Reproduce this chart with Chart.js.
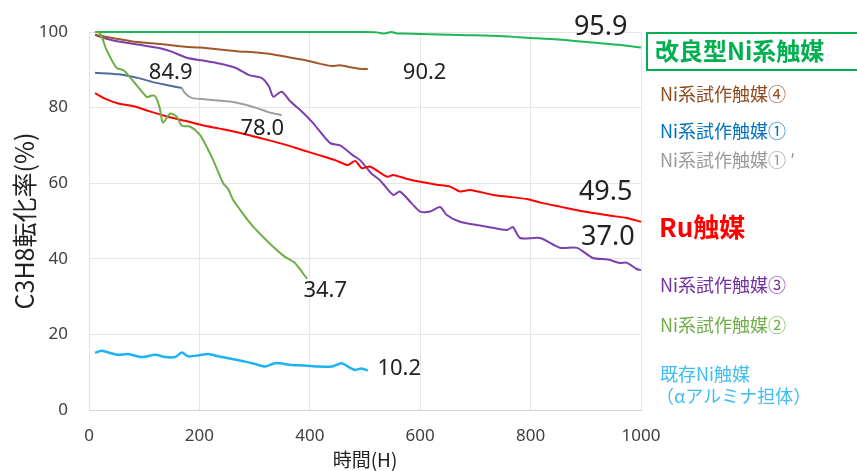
<!DOCTYPE html>
<html lang="ja">
<head>
<meta charset="UTF-8">
<title>C3H8転化率</title>
<script src="https://cdn.jsdelivr.net/npm/chart.js"></script>
<style>
  html, body { margin: 0; padding: 0; background: #fff; }
  canvas { display: block; }
</style>
</head>
<body>
<canvas id="chart" width="857" height="471"></canvas>
<script>
// axis ticks
const xTicks = [0, 200, 400, 600, 800, 1000];
const yTicks = [0, 20, 40, 60, 80, 100];

// 改良型Ni系触媒
const improvedH   = [11, 100, 200, 300, 400, 500, 522, 535, 548, 558, 570, 600, 672, 750, 793, 850, 913, 960, 1000];
const improvedVal = [100, 100, 100, 100, 100, 100, 99.9, 99.6, 100, 99.6, 99.6, 99.5, 99.2, 98.9, 98.5, 98.0, 97.2, 96.6, 95.9];

// Ni系試作触媒④
const ni4H   = [11, 40, 83, 130, 174, 201, 264, 322, 355, 390, 415, 431, 440, 455, 476, 490, 505];
const ni4Val = [99.2, 98.5, 97.4, 96.8, 96.1, 95.9, 95.0, 94.3, 93.5, 92.6, 91.7, 91.2, 91.0, 91.2, 90.6, 90.3, 90.2];

// Ni系試作触媒①
const ni1H   = [11, 53, 90, 114, 140, 168];
const ni1Val = [89.2, 88.8, 87.8, 86.8, 86.0, 85.2];

// Ni系試作触媒① ′
const ni1pH   = [168, 174, 187, 210, 234, 264, 306, 325, 349];
const ni1pVal = [85.2, 83.8, 82.5, 82.2, 81.9, 81.4, 79.8, 78.8, 78.0];

// Ru触媒
const ruH   = [11, 30, 53, 83, 110, 143, 174, 204, 234, 264, 295, 325, 355, 386, 415, 446, 469, 482, 494, 509, 540, 551, 575, 600, 630, 654, 672, 690, 732, 760, 793, 820, 853, 880, 913, 945, 974, 1000];
const ruVal = [83.8, 82.3, 81.1, 80.3, 79.0, 77.6, 76.5, 75.4, 74.5, 73.6, 72.5, 71.4, 70.2, 68.8, 67.5, 66.1, 64.8, 65.9, 64.0, 64.4, 61.7, 62.2, 61.2, 60.4, 59.6, 59.1, 57.8, 58.2, 56.9, 56.4, 55.8, 54.8, 53.8, 53.0, 52.1, 51.4, 50.8, 49.8];

// Ni系試作触媒③
const ni3H   = [11, 30, 56, 92, 129, 150, 177, 204, 231, 264, 290, 313, 326, 334, 349, 365, 386, 406, 437, 455, 477, 491, 512, 527, 551, 563, 585, 600, 618, 636, 648, 672, 700, 721, 757, 768, 781, 817, 853, 884, 913, 940, 962, 974, 992, 1000];
const ni3Val = [99.2, 98.3, 97.4, 96.6, 95.7, 94.8, 93.2, 92.5, 91.8, 90.6, 88.6, 87.8, 85.6, 82.9, 84.2, 81.6, 78.9, 75.9, 70.6, 70.0, 67.5, 66.1, 62.5, 60.8, 56.9, 57.8, 54.6, 52.5, 52.5, 53.7, 51.6, 49.8, 49.0, 48.5, 47.6, 48.4, 45.5, 45.5, 42.9, 42.9, 40.2, 39.8, 38.9, 39.0, 37.3, 37.0];

// Ni系試作触媒②
const ni2H   = [11, 20, 32, 50, 62, 71, 96, 105, 114, 120, 128, 134, 147, 159, 168, 183, 201, 216, 225, 243, 252, 261, 270, 295, 325, 355, 373, 395];
const ni2Val = [100, 99.7, 95.2, 90.5, 89.9, 88.6, 84.2, 82.8, 83.2, 83.0, 80.0, 76.0, 78.4, 77.6, 75.2, 75.0, 72.8, 68.8, 66.1, 60.0, 58.5, 55.6, 53.7, 48.9, 44.4, 40.5, 38.9, 34.7];

// 既存Ni触媒（αアルミナ担体）
const exH   = [11, 23, 40, 53, 71, 96, 120, 138, 156, 168, 180, 200, 216, 234, 259, 283, 300, 319, 337, 367, 390, 415, 440, 458, 470, 482, 494, 505];
const exVal = [15.1, 15.7, 15.0, 14.6, 14.8, 14.0, 14.6, 14.0, 14.0, 15.2, 14.2, 14.5, 14.8, 14.2, 13.5, 12.8, 12.2, 11.5, 12.4, 11.9, 11.8, 11.5, 11.5, 12.4, 11.4, 10.6, 11.0, 10.4];

// value labels near line ends (data units)
const endLabels = [
  { text: '95.9', x: 927, y: 101.3, size: 27 },
  { text: '90.2', x: 608, y: 89.3, size: 22 },
  { text: '84.9', x: 148, y: 89.3, size: 22 },
  { text: '78.0', x: 314, y: 74.3, size: 22 },
  { text: '49.5', x: 936, y: 57.7, size: 27 },
  { text: '37.0', x: 940, y: 45.8, size: 27 },
  { text: '34.7', x: 428, y: 31.5, size: 22 },
  { text: '10.2', x: 562, y: 11.0, size: 22 }
];

const pts = (xs, ys) => xs.map((x, i) => ({ x: x, y: ys[i] }));

function line(label, xs, ys, color, width) {
  return {
    label: label,
    data: pts(xs, ys),
    borderColor: color,
    backgroundColor: color,
    borderWidth: width,
    pointRadius: 0,
    tension: 0.25,
    clip: false
  };
}

const CJK = '"Noto Sans CJK JP", "Noto Sans", sans-serif';

// text on the right side + value labels
const annotations = {
  id: 'annotations',
  afterDraw(chart) {
    const ctx = chart.ctx;
    const xs = chart.scales.x, ys = chart.scales.y;
    ctx.save();
    ctx.textBaseline = 'middle';

    ctx.fillStyle = '#222';
    ctx.textAlign = 'center';
    endLabels.forEach(l => {
      ctx.font = l.size + 'px "Noto Sans", sans-serif';
      ctx.fillText(l.text, xs.getPixelForValue(l.x), ys.getPixelForValue(l.y));
    });

    ctx.textAlign = 'left';
    ctx.strokeStyle = '#00B050';
    ctx.lineWidth = 2;
    ctx.strokeRect(647, 33, 212, 37);

    const legend = [
      ['改良型Ni系触媒', '#00B050', 'bold 24px', 655, 51],
      ['Ni系試作触媒④', '#8E4A1C', '18px', 660, 94],
      ['Ni系試作触媒①', '#0070C0', '18px', 660, 131],
      ['Ni系試作触媒① ′', '#999999', '18px', 660, 160],
      ['Ru触媒', '#FF0000', 'bold 26px', 659, 227],
      ['Ni系試作触媒③', '#7030A0', '18px', 660, 285],
      ['Ni系試作触媒②', '#70AD47', '18px', 660, 325],
      ['既存Ni触媒', '#3FBDF2', '18px', 660, 374],
      ['（αアルミナ担体）', '#3FBDF2', '18px', 656, 396]
    ];
    legend.forEach(([t, c, f, x, y]) => {
      ctx.fillStyle = c;
      ctx.font = f + ' ' + CJK;
      ctx.fillText(t, x, y);
    });
    ctx.restore();
  }
};

new Chart(document.getElementById('chart'), {
  type: 'line',
  data: {
    datasets: [
      line('既存Ni触媒', exH, exVal, '#1DB3F0', 2.5),
      line('Ni系試作触媒②', ni2H, ni2Val, '#70AD47', 2),
      line('Ni系試作触媒① ′', ni1pH, ni1pVal, '#9E9E9E', 2),
      line('Ni系試作触媒①', ni1H, ni1Val, '#4E6A9A', 2),
      line('Ni系試作触媒④', ni4H, ni4Val, '#A0582A', 2),
      line('Ru触媒', ruH, ruVal, '#FF0000', 2),
      line('Ni系試作触媒③', ni3H, ni3Val, '#7B3FAE', 2),
      line('改良型Ni系触媒', improvedH, improvedVal, '#1DB954', 2)
    ]
  },
  options: {
    responsive: false,
    animation: false,
    layout: { padding: { top: 32, right: 216, left: 0, bottom: 0 } },
    plugins: { legend: { display: false }, tooltip: { enabled: false } },
    scales: {
      x: {
        type: 'linear',
        min: 0, max: 1000,
        afterBuildTicks: s => { s.ticks = xTicks.map(v => ({ value: v })); },
        afterFit: s => { s.height = 61; },
        grid: { color: '#E6E6E6', drawTicks: false },
        border: { color: '#D4D4D4' },
        ticks: { color: '#404040', padding: 16, callback: v => String(v), font: { size: 17, family: '"Noto Sans", sans-serif' } },
        title: { display: true, text: '時間(H)', color: '#222', padding: { top: 0, bottom: 0 }, font: { size: 19, family: CJK } }
      },
      y: {
        min: 0, max: 100,
        afterBuildTicks: s => { s.ticks = yTicks.map(v => ({ value: v })); },
        afterFit: s => { s.width = 89; },
        grid: { color: '#E6E6E6', drawTicks: false },
        border: { color: '#E0E0E0' },
        ticks: { color: '#404040', padding: 21, callback: v => String(v), font: { size: 17, family: '"Noto Sans", sans-serif' } },
        title: { display: true, text: 'C3H8転化率(%)', color: '#222', padding: { top: 9, bottom: 0 }, font: { size: 25, family: CJK } }
      }
    }
  },
  plugins: [annotations]
});
</script>
</body>
</html>
